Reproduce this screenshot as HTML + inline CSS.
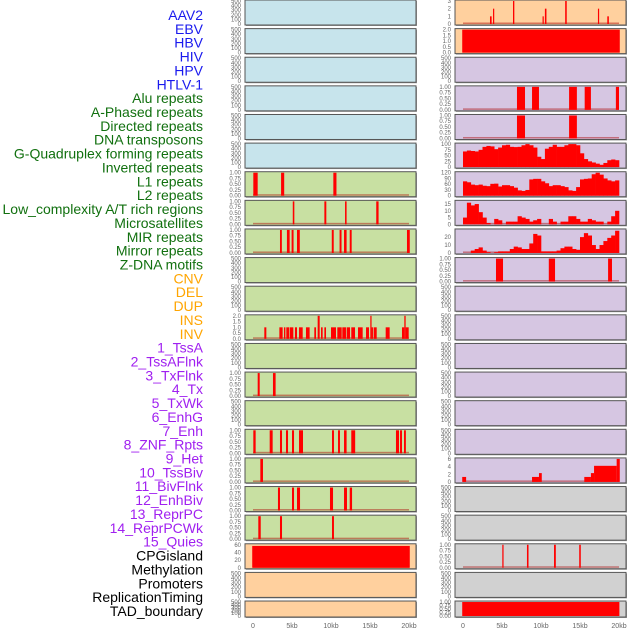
<!DOCTYPE html>
<html><head><meta charset="utf-8"><style>
html,body{margin:0;padding:0;background:#fff;width:630px;height:630px;overflow:hidden}
svg{display:block;font-family:"Liberation Sans",sans-serif}
</style></head><body>
<svg id="chart" width="630" height="630" viewBox="0 0 630 630"></svg>
<script>
// ---- data ----
const trackLabels=["AAV2","EBV","HBV","HIV","HPV","HTLV-1","Alu repeats","A-Phased repeats","Directed repeats","DNA transposons","G-Quadruplex forming repeats","Inverted repeats","L1 repeats","L2 repeats","Low_complexity A/T rich regions","Microsatellites","MIR repeats","Mirror repeats","Z-DNA motifs","CNV","DEL","DUP","INS","INV","1_TssA","2_TssAFlnk","3_TxFlnk","4_Tx","5_TxWk","6_EnhG","7_Enh","8_ZNF_Rpts","9_Het","10_TssBiv","11_BivFlnk","12_EnhBiv","13_ReprPC","14_ReprPCWk","15_Quies","CPGisland","Methylation","Promoters","ReplicationTiming","TAD_boundary"];
const labelGroups=[6,13,5,15,5];
const groupColors=["#1a1aee","#11700f","#ffa500","#a020f0","#000000"];
const xTicks=[0,5,10,15,20];
const xTickLabels=["0","5kb","10kb","15kb","20kb"];
const leftBg=["b","b","b","b","b","b","g","g","g","g","g","g","g","g","g","g","g","g","g","p","p","p"];
const rightBg=["p","p","l","l","l","l","l","l","l","l","l","l","l","l","l","l","l","y","y","y","y","y"];
const leftMax=[500,500,500,500,500,500,1,1,1,500,500,2,500,1,500,1,1,1,1,60,500,500];
const rightMax=[3,2,500,1,1,100,120,17,29,1,500,500,500,500,500,500,6,500,500,1,500,1];
// intervals [startKb,endKb,value]
const leftL1=[[0.04,0.6,1],[3.6,4.0,1],[10.3,10.7,1]];
const leftL2=[[5.1,5.3,1],[9.15,9.4,1],[11.8,12.0,1],[15.8,16.1,1]];
const leftLowComplexity=[[3.46,3.7,1],[4.35,4.7,1],[4.95,5.2,1],[5.64,6.0,1],[10.1,10.35,1],[11.1,11.35,1],[11.67,12.0,1],[12.4,12.65,1],[19.74,20.1,1]];
const leftINS=[[1.45,1.71,1],[3.38,3.8,1],[3.97,4.15,1],[4.27,4.66,1],[4.74,5.17,1],[5.38,5.64,1],[5.9,6.37,1],[6.79,7.26,1],[7.86,8.08,1],[8.29,8.55,2],[8.72,8.93,1],[9.15,9.36,1],[10.0,10.64,1],[10.81,11.37,1],[11.45,11.92,1],[12.01,12.44,1],[12.6,13.08,1],[13.46,14.06,1],[14.49,14.87,1],[15.04,15.2,2],[15.2,15.38,1],[15.47,15.86,1],[17.01,17.52,1],[19.1,19.4,1],[19.4,19.57,2],[19.57,19.96,1]];
const leftTxFlnk=[[0.6,0.86,1],[2.56,2.9,1]];
const leftEnh=[[0.04,0.34,1],[2.14,2.52,1],[3.46,3.72,1],[4.23,4.49,1],[5.0,5.26,1],[5.9,6.41,1],[10.13,10.38,1],[10.9,11.15,1],[11.67,12.0,1],[12.6,13.1,1],[18.33,18.72,1],[18.85,19.1,1],[19.36,19.6,1]];
const leftHet=[[0.94,1.28,1]];
const leftBivFlnk=[[3.2,3.46,1],[5.0,5.26,1],[5.64,6.03,1],[9.87,10.26,1],[11.67,12.05,1],[12.4,12.7,1]];
const leftEnhBiv=[[0.68,0.99,1],[3.46,3.72,1],[10.13,10.38,1]];
const leftCPG=[[-0.1,20.1,57]];
const rightAAV2=[[3.46,3.67,1],[3.85,4.0,2],[6.41,6.58,3],[10.2,10.35,1],[10.5,10.7,2],[13.1,13.3,3],[17.3,17.45,2],[18.5,18.7,1]];
const rightEBV=[[-0.1,20.1,2]];
const rightAlu=[[6.92,7.95,1],[8.85,9.74,1],[13.6,14.6,1],[15.6,16.4,1],[19.6,20.0,1]];
const rightAPhased=[[6.92,7.95,1],[13.6,14.6,1]];
const rightZDNA=[[4.23,5.13,1],[11.0,11.8,1],[18.6,19.1,1]];
const rightHet=[[-0.1,0.4,1.3],[8.85,9.74,1.3],[9.74,10.1,2.3],[15.55,16.4,1.3],[16.4,16.8,2.3],[16.8,19.7,4.2],[19.7,20.1,6]];
const rightCPG=[[5.04,5.2,1],[8.2,8.4,1],[11.67,11.9,1],[14.9,15.1,1]];
const rightTAD=[[-0.1,20.05,1]];
// histograms, 0.5kb bins from 0kb
const histGQuad=[68,72,70,68,75,88,92,90,78,85,95,97,88,87,88,95,100,95,85,45,35,80,88,97,88,88,95,100,100,95,60,35,25,20,15,10,18,30,33,30];
const histL1=[75,70,58,55,58,52,50,62,63,48,55,55,50,42,28,25,30,85,88,88,75,65,50,55,55,50,45,28,25,45,85,88,90,112,120,110,90,80,75,80];
const histLowComplexity=[5,16,14,15,9,5,1,0,4,3,0,2,2,2,6,5,4,2,3,4,0,0,4,2,0,2,2,6,6,4,2,2,4,3,2,2,0,2,6,10];
const histMIR=[0,0,3,5,7,3,1,0,1,2,2,2,5,8,7,5,5,12,24,22,2,2,2,2,3,6,8,8,5,4,20,25,22,10,5,10,15,19,22,28];
// which tracks have data: [col,row,intervals or null,hist or null]
const leftData={6:leftL1,7:leftL2,8:leftLowComplexity,11:leftINS,13:leftTxFlnk,15:leftEnh,16:leftHet,17:leftBivFlnk,18:leftEnhBiv,19:leftCPG};
const rightData={0:rightAAV2,1:rightEBV,3:rightAlu,4:rightAPhased,9:rightZDNA,16:rightHet,19:rightCPG,21:rightTAD};
const rightHist={5:histGQuad,6:histL1,7:histLowComplexity,8:histMIR};
const tickSets={500:[0,100,200,300,400,500],1:[0,0.25,0.5,0.75,1],2:[0,0.5,1,1.5,2],3:[0,1,2,3],60:[0,20,40,60],100:[0,25,50,75,100],120:[0,30,60,90,120],17:[0,5,10,15],29:[0,10,20],6:[0,2,4,6]};
const bgColors={b:"#c7e4ec",g:"#c8e0a2",p:"#ffd09e",l:"#d6c6e2",y:"#d1d1d1"};

// ---- drawing ----
const NS="http://www.w3.org/2000/svg";
const svg=document.getElementById("chart");
function mk(tag,attrs,parent){const e=document.createElementNS(NS,tag);for(const k in attrs)e.setAttribute(k,attrs[k]);(parent||svg).appendChild(e);return e;}
const colX=[245,455];const panelW=171;
function xScale(col,kb){return colX[col]+8+kb*7.8;}
function rowTop(r){return r*28.62;}
function rowH(r){return r===21?16:25;}
function fmt(v,max){if(max===1)return v.toFixed(2);if(max===2)return v.toFixed(1);return String(v);}

// labels
let li=0;
labelGroups.forEach((n,g)=>{for(let k=0;k<n;k++){const t=mk("text",{x:203,y:15+li*13.86+5,"text-anchor":"end","font-size":"14",fill:groupColors[g]});t.textContent=trackLabels[li];


li++;}});

function drawPanel(col,r,bg,max,bars,hist){
  const top=rowTop(r),h=rowH(r),x0=colX[col];
  const g=mk("g",{});
  
  
  mk("rect",{x:x0+1,y:top+1,width:panelW,height:h,fill:"#999"},g);
  mk("rect",{x:x0,y:top,width:panelW,height:h,fill:bgColors[bg],stroke:"#555","stroke-width":1},g);
  const yS=v=>top+h-1-(v/max)*(h-2);
  if(bars||hist){
    mk("rect",{x:xScale(col,0),y:top+h-2.5,width:xScale(col,20)-xScale(col,0),height:1.5,fill:"rgba(170,0,0,0.45)"},g);
  }
  if(bars)bars.forEach(b=>{const x1=xScale(col,b[0]),x2=xScale(col,b[1]);
    const rc=mk("rect",{x:x1,y:yS(b[2]),width:Math.max(1.2,x2-x1),height:top+h-1-yS(b[2]),fill:"#ff0000"},g);
    
    });
  if(hist)hist.forEach((v,i)=>{const x1=xScale(col,i*0.5),x2=xScale(col,i*0.5+0.5);
    const rc=mk("rect",{x:x1,y:yS(v),width:x2-x1+0.3,height:top+h-1-yS(v),fill:"#ff0000"},g);
    
    });
  const ticks=tickSets[max];
  ticks.forEach(v=>{const t=mk("text",{x:x0-4,y:yS(v)+2,"text-anchor":"end","font-size":"6",fill:"#666"},g);t.textContent=fmt(v,max);});
}
for(let r=0;r<22;r++){
  drawPanel(0,r,leftBg[r],leftMax[r],leftData[r]||null,null);
  drawPanel(1,r,rightBg[r],rightMax[r],rightData[r]||null,rightHist[r]||null);
}
// x axes
[0,1].forEach(col=>{xTicks.forEach((k,i)=>{const t=mk("text",{x:xScale(col,k),y:628,"text-anchor":"middle","font-size":"7",fill:"#666"});t.textContent=xTickLabels[i];

});});
</script>
</body></html>
